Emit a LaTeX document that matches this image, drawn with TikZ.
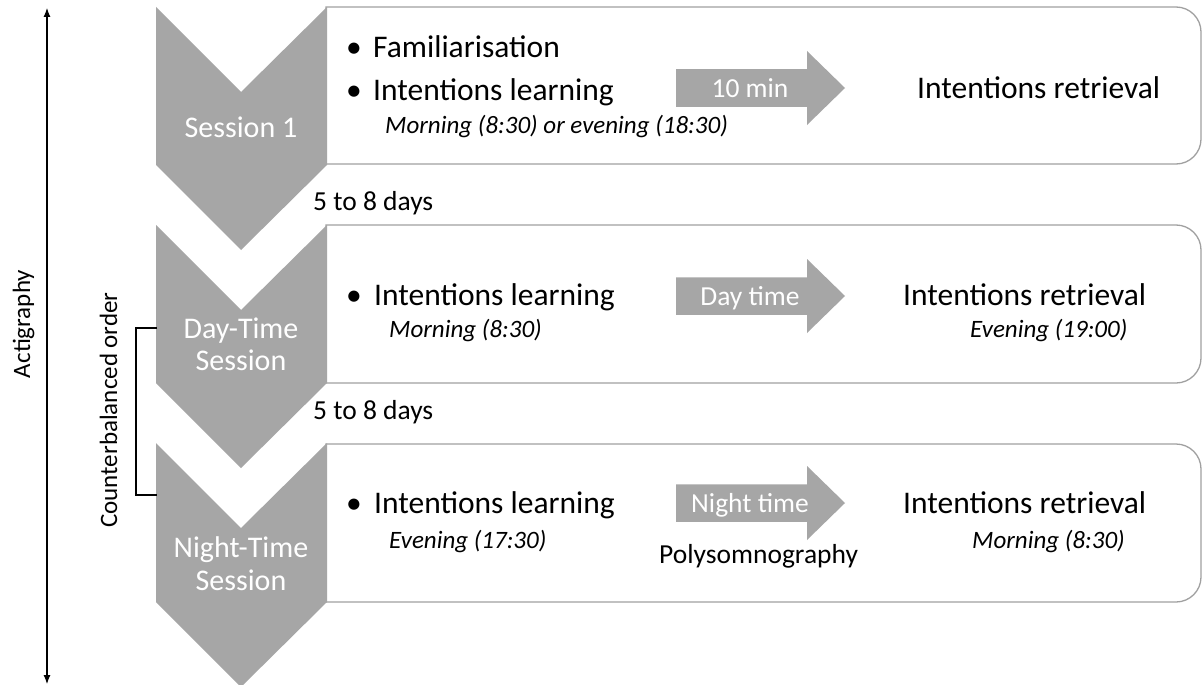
\documentclass[tikz,border=0pt]{standalone}
\usepackage{fontspec}
\setmainfont{Carlito}
\usetikzlibrary{arrows.meta}
\definecolor{chevgray}{RGB}{166,166,166}
\definecolor{boxgray}{RGB}{160,160,160}
\newcommand\fsMain{\fontsize{31.5}{36}\selectfont}
\newcommand\fsIt{\fontsize{25}{30}\selectfont\itshape}
\newcommand\fsChev{\fontsize{30}{34}\selectfont}
\newcommand\fsArr{\fontsize{27.5}{32}\selectfont}
\newcommand\fsSide{\fontsize{25}{30}\selectfont}
\tikzset{
  chev/.style={fill=chevgray, draw=none},
  boxline/.style={draw=boxgray, line width=1.3pt, fill=white},
  blockarr/.style={fill=chevgray, draw=none},
  txt/.style={anchor=base west, inner sep=0pt, font=\fsMain},
  ittxt/.style={anchor=base west, inner sep=0pt, font=\fsIt},
  chevtxt/.style={anchor=base, inner sep=0pt, font=\fsChev, text=white},
  arrtxt/.style={anchor=base, inner sep=0pt, font=\fsArr, text=white},
  gaptxt/.style={anchor=base west, inner sep=0pt, font=\fsArr},
  sidetxt/.style={anchor=base, inner sep=0pt, font=\fsSide, rotate=90},
  thinline/.style={draw=black, line width=1.1pt}
}
\begin{document}
\begin{tikzpicture}[x=1pt,y=-1pt]
\useasboundingbox[fill=white] (0,0) rectangle (1202,685);

% boxes
\path[boxline] (326,7) [rounded corners=25pt] -- (1201,7) -- (1201,164) [sharp corners] -- (326,164) -- cycle;
\path[boxline] (326,225) [rounded corners=25pt] -- (1201,225) -- (1201,383) [sharp corners] -- (326,383) -- cycle;
\path[boxline] (326,444) [rounded corners=25pt] -- (1201,444) -- (1201,602) [sharp corners] -- (326,602) -- cycle;

% chevrons
\fill[chev] (156,7) -- (241,92) -- (327,7) -- (327,165) -- (241,250) -- (156,165) -- cycle;
\fill[chev] (156,225) -- (241,310) -- (327,225) -- (327,383) -- (241,468) -- (156,383) -- cycle;
\fill[chev] (156,443) -- (241,528) -- (327,443) -- (327,602) -- (241,687) -- (156,602) -- cycle;

\node[chevtxt] (s1) at (241,137) {Session 1};
\node[chevtxt] (s2a) at (241,338) {Day-Time};
\node[chevtxt] (s2b) at (241,370) {Session};
\node[chevtxt] (s3a) at (241,557) {Night-Time};
\node[chevtxt] (s3b) at (241,590) {Session};

% block arrows
\begin{scope}[shift={(0,88)}]
\fill[blockarr] (676,-18.75) -- (807,-18.75) -- (807,-37) -- (845,0) -- (807,37) -- (807,18.75) -- (676,18.75) -- cycle;
\node[arrtxt] (a1) at (750,9) {10 min};
\end{scope}
\begin{scope}[shift={(0,296)}]
\fill[blockarr] (676,-18.75) -- (807,-18.75) -- (807,-37) -- (845,0) -- (807,37) -- (807,18.75) -- (676,18.75) -- cycle;
\node[arrtxt] (a2) at (750,9) {Day time};
\end{scope}
\begin{scope}[shift={(0,503)}]
\fill[blockarr] (676,-18.75) -- (807,-18.75) -- (807,-37) -- (845,0) -- (807,37) -- (807,18.75) -- (676,18.75) -- cycle;
\node[arrtxt] (a3) at (750,9) {Night time};
\end{scope}

% box 1 text
\node[txt] (bu1a) at (346,58) {\textbullet};
\node[txt] (f1) at (373,58) {Familiarisation};
\node[txt] (bu1b) at (346,100) {\textbullet};
\node[txt] (l1) at (373,100) {Intentions learning};
\node[ittxt] (m1) at (385,133) {Morning (8:30) or evening (18:30)};
\node[txt] (r1) at (917,99) {Intentions retrieval};

% box 2 text
\node[txt] (bu2) at (346,305) {\textbullet};
\node[txt] (l2) at (374,305) {Intentions learning};
\node[ittxt] (m2) at (389,337) {Morning (8:30)};
\node[txt] (r2) at (903,305) {Intentions retrieval};
\node[ittxt] (e2) at (970,337) {Evening (19:00)};

% box 3 text
\node[txt] (bu3) at (346,513) {\textbullet};
\node[txt] (l3) at (374,513) {Intentions learning};
\node[ittxt] (m3) at (389,548) {Evening (17:30)};
\node[txt] (r3) at (903,513) {Intentions retrieval};
\node[ittxt] (e3) at (972,548) {Morning (8:30)};
\node[gaptxt] (poly) at (659,563) {Polysomnography};

% gaps
\node[gaptxt] (d1) at (313,210) {5 to 8 days};
\node[gaptxt] (d2) at (313,419) {5 to 8 days};

% actigraphy arrow
\coordinate (actTop) at (47,8);
\coordinate (actBot) at (47,684);
\draw[thinline, {Latex[length=9pt,width=7pt]}-{Latex[length=9pt,width=7pt]}] (actTop) -- (actBot);
\node[sidetxt] (act) at (30,324) {Actigraphy};

% counterbalanced bracket
\coordinate (brT) at (157,328);
\coordinate (brB) at (157,495);
\draw[thinline] (brT) -- (136,328) -- (136,495) -- (brB);
\node[sidetxt] (cb) at (117,410) {Counterbalanced order};
\end{tikzpicture}
\end{document}
